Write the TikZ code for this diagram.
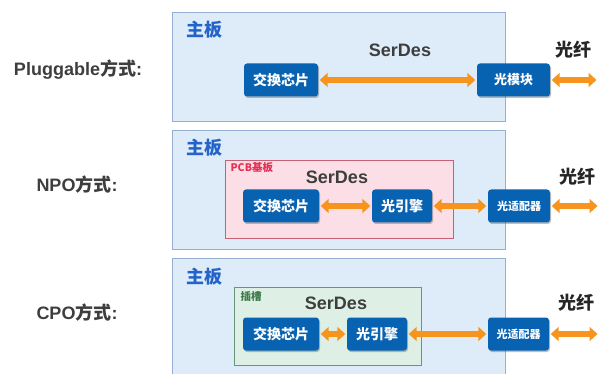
\documentclass[tikz,border=0pt]{standalone}
\usepackage{fontspec}
\setmainfont{Liberation Sans}
\newfontfamily\cjk{Noto Sans CJK SC}
\usepackage{tikz}
\usepackage{xcolor}
\usetikzlibrary{arrows.meta, positioning, shadows}
\definecolor{cBoard}{RGB}{222,236,250}
\definecolor{cBoardLine}{RGB}{150,176,212}
\definecolor{cChip}{RGB}{8,98,178}
\definecolor{cOrange}{RGB}{247,148,29}
\definecolor{cLabel}{RGB}{62,62,62}
\definecolor{cTitle}{RGB}{36,100,200}
\definecolor{cPink}{RGB}{252,222,230}
\definecolor{cPinkLine}{RGB}{200,96,116}
\definecolor{cPinkText}{RGB}{228,48,84}
\definecolor{cMint}{RGB}{222,240,230}
\definecolor{cMintLine}{RGB}{104,150,120}
\definecolor{cMintText}{RGB}{62,122,72}
\tikzset{
	board/.style    ={rectangle, draw=cBoardLine, fill=cBoard, line width=0.8pt, minimum width=333pt, inner sep=0pt},
	pcb/.style      ={rectangle, draw=cPinkLine, fill=cPink, line width=0.8pt, inner sep=0pt},
	slot/.style     ={rectangle, draw=cMintLine, fill=cMint, line width=0.8pt, inner sep=0pt},
	chip/.style     ={rectangle, rounded corners=3pt, fill=cChip, text=white, minimum height=33pt, inner sep=0pt,
	                  font=\cjk\bfseries\fontsize{14}{14}\selectfont,
	                  drop shadow={shadow xshift=1pt, shadow yshift=-1.5pt, opacity=0.35, fill=black!70}},
	way/.style      ={font=\bfseries\fontsize{18}{18}\selectfont, text=cLabel},
	title/.style    ={font=\cjk\bfseries\fontsize{18}{18}\selectfont, text=cTitle},
	serdes/.style   ={font=\bfseries\fontsize{18}{18}\selectfont, text=cLabel},
	fiber/.style    ={font=\cjk\bfseries\fontsize{18}{18}\selectfont, text=black!85},
	tag/.style      ={font=\cjk\bfseries\fontsize{10.5}{10.5}\selectfont, anchor=west},
	link/.style     ={draw=cOrange, line width=5.5pt, {Triangle[length=8pt,width=14pt]}-{Triangle[length=8pt,width=14pt]}, shorten >=1.5pt, shorten <=1.5pt},
}
\begin{document}
\begin{tikzpicture}[x=1pt, y=-1pt]
	\clip (0,0) rectangle (600,374);
	\fill[white] (0,0) rectangle (600,374);
	% Pluggable
	\node[way] (w1) at (78,70) {Pluggable{\cjk 方式}:};
	\node[board, minimum height=109pt] (b1) at (338.5,66.5) {};
	\node[title] (t1) at (204,30) {主板};
	\node[serdes] (s1) at (400,50) {SerDes};
	\node[fiber] (f1) at (573,50) {光纤};
	\node[chip, minimum width=74pt] (sw1) at (281,80) {交换芯片};
	\node[chip, minimum width=73pt, font=\cjk\bfseries\fontsize{13}{13}\selectfont] (om1) at (513.5,80) {光模块};
	\coordinate (e1) at (598,80);
	\draw[link] (sw1.east) -- (om1.west);
	\draw[link] (om1.east) -- (e1);
	% NPO
	\node[way] (w2) at (77,185) {NPO{\cjk 方式}:};
	\node[board, minimum height=119pt] (b2) at (338.5,189.5) {};
	\node[title] (t2) at (204,148) {主板};
	\node[pcb, minimum width=228pt, minimum height=78pt] (p2) at (339,199) {};
	\node[tag, text=cPinkText] (g2) at (227,168) {PCB基板};
	\node[serdes] (s2) at (337,177) {SerDes};
	\node[fiber] (f2) at (577,177) {光纤};
	\node[chip, minimum width=76pt] (sw2) at (281,206) {交换芯片};
	\node[chip, minimum width=60pt] (oe2) at (402,206) {光引擎};
	\node[chip, minimum width=62pt, font=\cjk\bfseries\fontsize{11}{11}\selectfont] (oa2) at (519,206) {光适配器};
	\coordinate (e2) at (599,206);
	\draw[link] (sw2.east) -- (oe2.west);
	\draw[link] (oe2.east) -- (oa2.west);
	\draw[link] (oa2.east) -- (e2);
	% CPO
	\node[way] (w3) at (77,313) {CPO{\cjk 方式}:};
	\node[board, minimum height=122pt] (b3) at (338.5,319) {};
	\node[title] (t3) at (204,277) {主板};
	\node[slot, minimum width=187pt, minimum height=78pt] (p3) at (327.5,326) {};
	\node[tag, text=cMintText] (g3) at (237,297) {插槽};
	\node[serdes] (s3) at (336,303) {SerDes};
	\node[fiber] (f3) at (576,303) {光纤};
	\node[chip, minimum width=76pt] (sw3) at (281,334) {交换芯片};
	\node[chip, minimum width=60pt] (oe3) at (377,334) {光引擎};
	\node[chip, minimum width=61pt, font=\cjk\bfseries\fontsize{11}{11}\selectfont] (oa3) at (518.5,334) {光适配器};
	\coordinate (e3) at (599,334);
	\draw[link] (sw3.east) -- (oe3.west);
	\draw[link] (oe3.east) -- (oa3.west);
	\draw[link] (oa3.east) -- (e3);
\end{tikzpicture}
\end{document}
